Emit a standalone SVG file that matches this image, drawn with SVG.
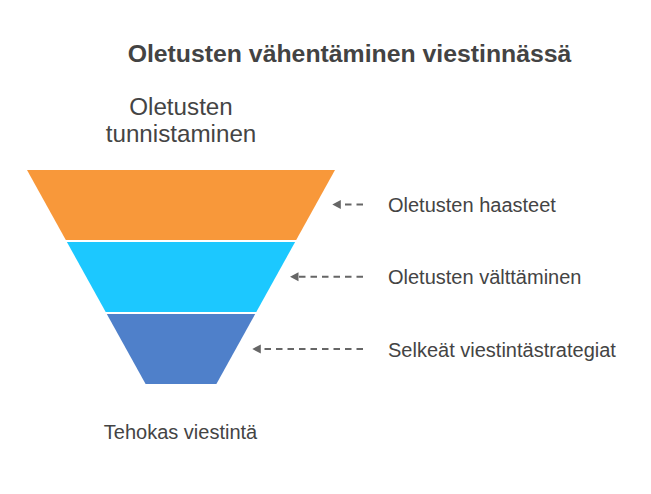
<svg xmlns="http://www.w3.org/2000/svg" width="651" height="494" viewBox="0 0 651 494">
  <style>
    .title { font-family: "Liberation Sans", Arial, sans-serif; font-weight: bold; font-size: 24.8px; fill: #434343; }
    .big { font-family: "Liberation Sans", Arial, sans-serif; font-size: 24.2px; fill: #444444; }
    .lbl { font-family: "Liberation Sans", Arial, sans-serif; font-size: 20px; fill: #444444; }
    .conn { fill: none; stroke: #666666; stroke-width: 2; stroke-dasharray: 6.5 5; }
  </style>
  <defs>
    <marker id="ah" markerUnits="userSpaceOnUse" markerWidth="9" markerHeight="10" viewBox="0 0 9 10" refX="0" refY="5" orient="auto">
      <path d="M0,0.5 L8.5,5 L0,9.5 z" fill="#666666"/>
    </marker>
  </defs>
  <rect width="651" height="494" fill="#ffffff"/>
  <text class="title" x="349.5" y="62" text-anchor="middle">Oletusten vähentäminen viestinnässä</text>
  <g id="top-label">
    <text class="big" x="181" y="115" text-anchor="middle">Oletusten</text>
    <text class="big" x="181" y="142" text-anchor="middle">tunnistaminen</text>
  </g>
  <g id="stage1">
    <polygon points="27,170 335,170 296.2,240 65.8,240" fill="#F8983A"/>
  </g>
  <g id="stage2">
    <polygon points="66.9,242 295.1,242 256.3,312 105.7,312" fill="#1CC8FF"/>
  </g>
  <g id="stage3">
    <polygon points="106.8,314 255.2,314 216.4,384 145.6,384" fill="#4F80CA"/>
  </g>
  <g id="bottom-label">
    <text class="lbl" x="180.5" y="439" text-anchor="middle">Tehokas viestintä</text>
  </g>
  <g id="connectors">
    <path class="conn" d="M363,204.5 H340.8" marker-end="url(#ah)"/>
    <path class="conn" d="M363,276.7 H298.5" marker-end="url(#ah)"/>
    <path class="conn" d="M363,349 H260.8" marker-end="url(#ah)"/>
  </g>
  <g id="label1"><text class="lbl" x="388" y="211.5">Oletusten haasteet</text></g>
  <g id="label2"><text class="lbl" x="388" y="284">Oletusten välttäminen</text></g>
  <g id="label3"><text class="lbl" x="388" y="356.5">Selkeät viestintästrategiat</text></g>
</svg>
